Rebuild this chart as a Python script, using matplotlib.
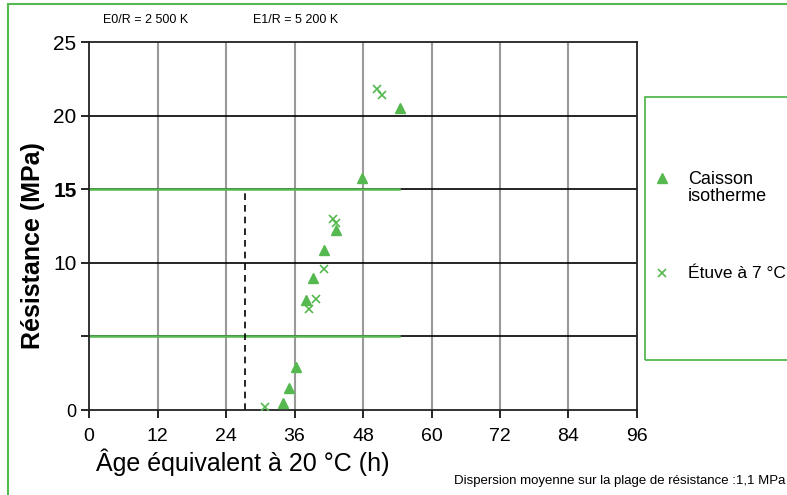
import matplotlib
matplotlib.use('Agg')
import matplotlib.pyplot as plt
from matplotlib.patches import Rectangle
from matplotlib.lines import Line2D

# data
caisson_x = [34.0, 35.1, 36.3, 38.1, 39.3, 41.2, 43.3, 47.9, 54.5]
caisson_y = [0.5, 1.5, 2.9, 7.5, 9.0, 10.9, 12.2, 15.75, 20.5]
etuve_x = [30.8, 38.6, 39.8, 41.2, 42.7, 43.3, 50.4, 51.3]
etuve_y = [0.22, 6.84, 7.56, 9.6, 12.95, 12.7, 21.8, 21.4]
xticks = [0, 12, 24, 36, 48, 60, 72, 84, 96]
yticks = [0, 5, 10, 15, 20, 25]
ylabels = ['0', '', '10', '15', '20', '25']
limit_levels = [5, 15]
limit_end = 54.3
age_mark = 27.3

green = '#55b94f'
plt.rcParams['font.family'] = ['Liberation Sans', 'DejaVu Sans']

fig = plt.figure(figsize=(7.87, 4.95), dpi=100)
ax = fig.add_axes([0.1131, 0.1717, 0.6963, 0.7434])

for x in xticks[1:-1]:
    ax.axvline(x, color='#999999', lw=1.5, zorder=1)
for y in yticks[1:-1]:
    ax.axhline(y, color='black', lw=1.2, zorder=1)
for y in limit_levels:
    ax.plot([0, limit_end], [y, y], color=green, lw=1.8, zorder=2)
ax.plot([age_mark, age_mark], [0, 15], color='black', lw=1.2, ls=(0, (4, 3)), zorder=2)

ax.plot(caisson_x, caisson_y, ls='none', marker='^', ms=7, color=green, mec=green, zorder=3)
ax.plot(etuve_x, etuve_y, ls='none', marker='x', ms=6, mew=1.2, color=green, zorder=3)

ax.set_xlim(0, 96)
ax.set_ylim(0, 25)
ax.set_xticks(xticks)
ax.set_yticks(yticks)
ax.set_yticklabels(ylabels)
ax.tick_params(axis='x', labelsize=14, length=6, width=1.2, direction='out', pad=7)
ax.tick_params(axis='y', labelsize=15, length=6, width=1.2, direction='out', pad=3)
for lab in ax.get_yticklabels():
    if lab.get_text() == '15':
        lab.set_fontweight('bold')
    if lab.get_text() == '0':
        lab.set_fontsize(13)
for s in ax.spines.values():
    s.set_color('#222222')
    s.set_linewidth(1.3)

fig.text(243 / 787, 1 - 462 / 495, 'Âge équivalent à 20 °C (h)', fontsize=18, ha='center', va='center')
fig.text(33 / 787, 1 - 246 / 495, 'Résistance (MPa)', fontsize=18, fontweight='bold',
         rotation=90, ha='center', va='center')

fig.text(103 / 787, 1 - 20 / 495, 'E0/R = 2 500 K', fontsize=9, va='center')
fig.text(253 / 787, 1 - 20 / 495, 'E1/R = 5 200 K', fontsize=9, va='center')
fig.text(785 / 787, 1 - 481 / 495, 'Dispersion moyenne sur la plage de résistance :1,1 MPa',
         fontsize=9.5, ha='right', va='center')

# outer frame and legend frame
fig.patches.append(Rectangle((8 / 787, -0.1), 1.2, 1 - 4 / 495 + 0.1, transform=fig.transFigure,
                             fill=False, ec=green, lw=1.5))
fig.patches.append(Rectangle((645 / 787, 1 - 360 / 495), 0.3, 263 / 495, transform=fig.transFigure,
                             fill=False, ec=green, lw=1.3))
fig.lines.append(Line2D([662 / 787], [1 - 178 / 495], transform=fig.transFigure, ls='none',
                        marker='^', ms=7, color=green))
fig.text(688 / 787, 1 - 188 / 495, 'Caisson\nisotherme', fontsize=13, va='center', linespacing=0.95)
fig.lines.append(Line2D([662 / 787], [1 - 273 / 495], transform=fig.transFigure, ls='none',
                        marker='x', ms=6, mew=1.2, color=green))
fig.text(688 / 787, 1 - 273 / 495, 'Étuve à 7 °C', fontsize=12.5, va='center')

plt.savefig('out.png', dpi=100)
